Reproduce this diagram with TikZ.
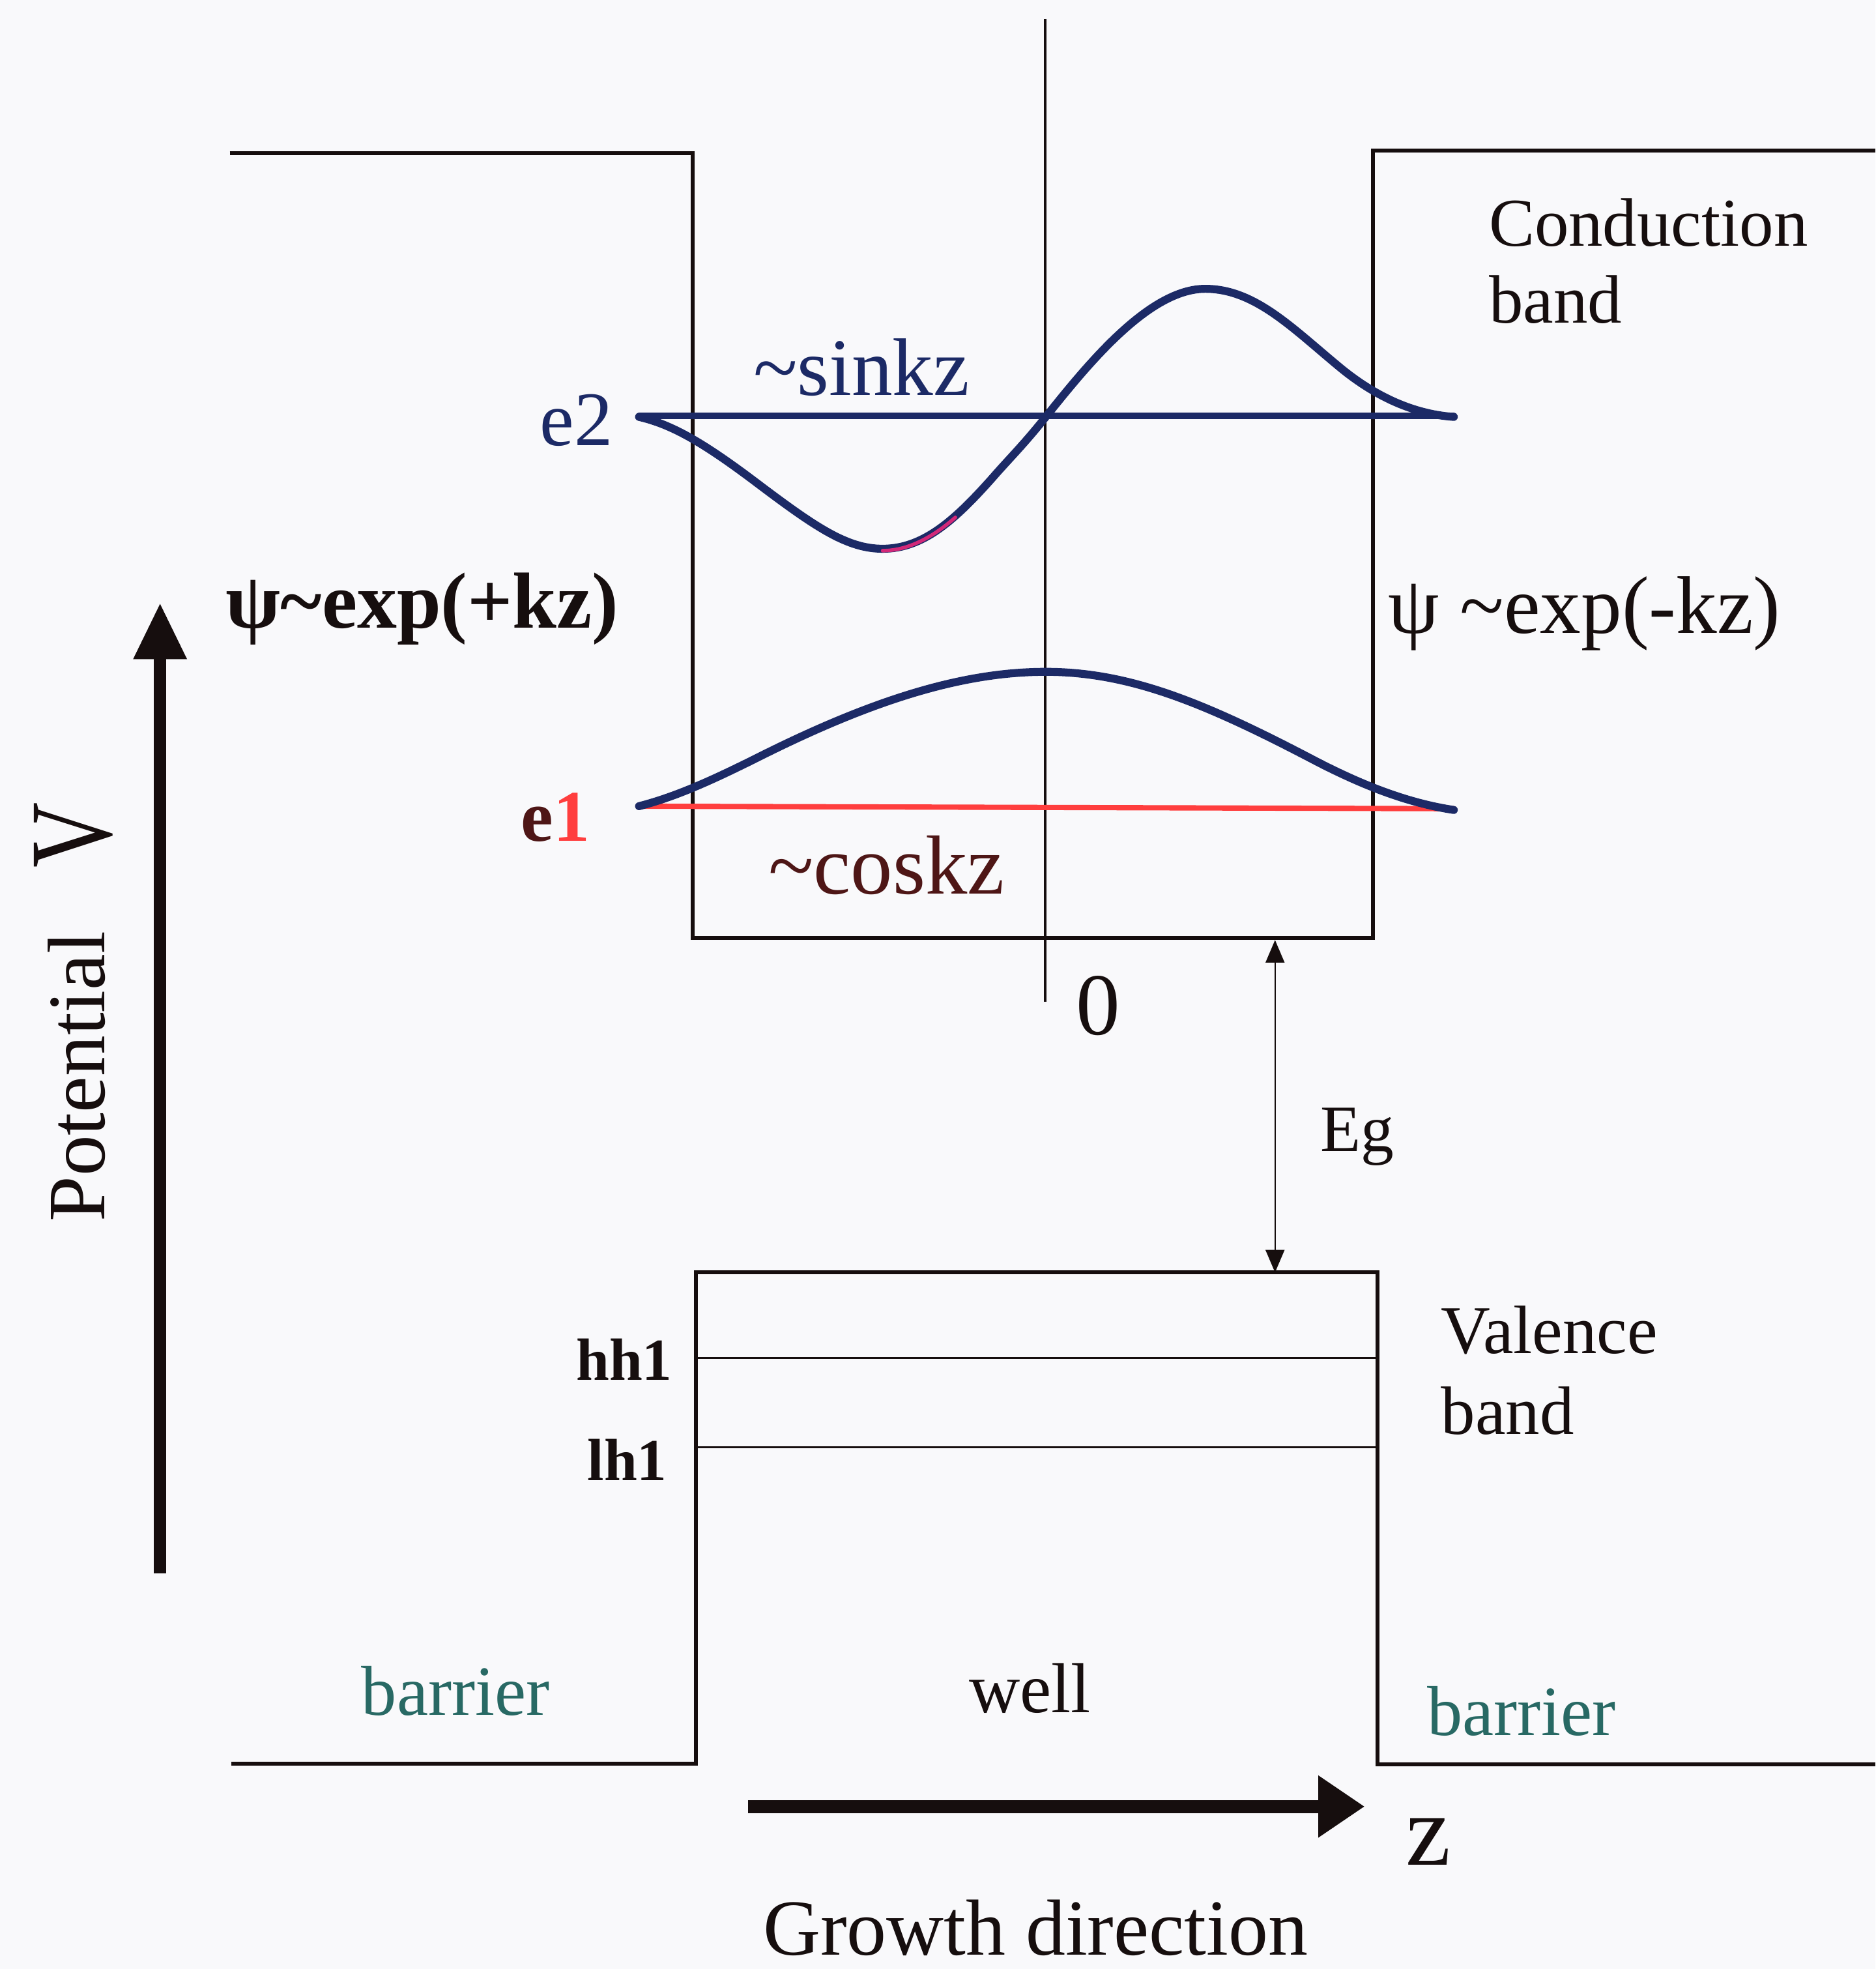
\documentclass[tikz,border=0pt]{standalone}
\usepackage{fontspec}
\setmainfont{Liberation Serif}
\usetikzlibrary{arrows.meta}
\definecolor{navy}{RGB}{28,42,102}
\definecolor{redline}{RGB}{255,62,62}
\definecolor{maroonc}{RGB}{78,22,22}
\definecolor{tealc}{RGB}{40,105,100}
\definecolor{bgc}{RGB}{249,249,251}
\definecolor{pinkseg}{RGB}{210,40,120}
\definecolor{inkc}{RGB}{22,14,14}
\newcommand{\fsz}[1]{\fontsize{#1}{#1}\selectfont}
\begin{document}
\begin{tikzpicture}[x=0.02cm,y=-0.02cm,
  bandline/.style={inkc,line width=1.8pt,line join=miter},
  lvl/.style={inkc,line width=1pt},
  lbl/.style={inner sep=0pt,outer sep=0pt,anchor=base west,text=inkc},
  wave/.style={navy,line width=3.6pt,line cap=round,line join=round},
  bigarrow/.style={inkc,line width=5.6pt}]
\fill[bgc] (0,0) rectangle (1494,1568);
\useasboundingbox (0,0) rectangle (1494,1568);

% conduction band
\draw[bandline] (183,122) -- (551.5,122) -- (551.5,746.8) -- (1093.4,746.8) -- (1093.4,120) -- (1494,120);
% valence band
\draw[bandline] (184,1404.6) -- (554.2,1404.6) -- (554.2,1013.3) -- (1097.2,1013.3) -- (1097.2,1405) -- (1494,1405);
\draw[lvl] (554.2,1081.4) -- (1097.2,1081.4);
\draw[lvl] (554.2,1152.4) -- (1097.2,1152.4);

% axis
\coordinate (axtop) at (832.5,15);
\coordinate (axbot) at (832.5,798);
\draw[inkc,line width=1.4pt] (axtop) -- (axbot);

% energy levels
\draw[navy,line width=3pt,line cap=round] (509,331) -- (1158,331);
\draw[redline,line width=2.4pt,line cap=round] (509,642) -- (1158,644);

% wavefunctions
\draw[wave] (509,332) .. controls (535,338) and (560,352) .. (606,387)
  .. controls (650,420) and (675,437) .. (703,437)
  .. controls (735,437) and (760,415) .. (791,380)
  .. controls (805,364) and (815,354.5) .. (833,332)
  .. controls (866,290.75) and (915,230) .. (960,230)
  .. controls (1000,230) and (1030,262) .. (1069,294)
  .. controls (1100,319) and (1130,330) .. (1158,332);
\draw[pinkseg,line width=1.6pt,line cap=round] (703,438.5) .. controls (725,438.5) and (745,426) .. (761,412);
\draw[wave] (509,642) .. controls (540,634) and (570,620) .. (606,602)
  .. controls (700,555) and (770,535) .. (833,535)
  .. controls (900,535) and (960,560) .. (1046,605)
  .. controls (1090,628) and (1125,640) .. (1158,645);

% arrows
\coordinate (vtail) at (127.5,1253);
\coordinate (vhead) at (127.5,480);
\draw[bigarrow,-{Triangle[length=0.9cm,width=0.8cm]}] (vtail) -- (vhead);
\coordinate (gtail) at (596,1438.6);
\coordinate (ghead) at (1087,1438.6);
\draw[bigarrow,line width=6pt,-{Triangle[length=0.74cm,width=0.94cm]}] (gtail) -- (ghead);
\coordinate (egtop) at (1015.6,748.6);
\coordinate (egbot) at (1015.6,1013.3);
\draw[inkc,line width=0.7pt,{Triangle[length=0.36cm,width=0.3cm]}-{Triangle[length=0.36cm,width=0.3cm]}] (egtop) -- (egbot);

% labels
\node[lbl] (cb1) at (1186,196) {\fsz{31}Conduction};
\node[lbl] (cb2) at (1186,257) {\fsz{31}band};
\node[lbl,text=navy] (e2) at (430,355) {\fsz{35}e2};
\node[lbl,text=navy] (sink) at (600,315) {\fsz{37}\textasciitilde sinkz};
\node[lbl] (psil) at (180,500) {\fsz{36}\bfseries ψ\textasciitilde exp(+kz)};
\node[lbl] (psir) at (1106,504) {\fsz{37}ψ \textasciitilde exp(-kz)};
\node[lbl] (e1) at (415,670) {\fsz{33}\bfseries\textcolor{maroonc}{e}\textcolor{redline}{1}};
\node[lbl,text=maroonc] (cosk) at (612,712) {\fsz{38}\textasciitilde coskz};
\node[lbl] (zero) at (857,824) {\fsz{40}0};
\node[lbl] (eg) at (1052,917) {\fsz{30}Eg};
\node[lbl] (hh) at (459,1099) {\fsz{27}\bfseries hh1};
\node[lbl] (lh) at (468,1179) {\fsz{27}\bfseries lh1};
\node[lbl] (vb1) at (1148,1078) {\fsz{31}Valence};
\node[lbl] (vb2) at (1148,1142) {\fsz{31}band};
\node[lbl,text=tealc] (barl) at (288,1366) {\fsz{32}barrier};
\node[lbl] (well) at (772,1364) {\fsz{32}well};
\node[lbl,text=tealc] (barr) at (1137,1382) {\fsz{32}barrier};
\node[lbl] (zlab) at (1120,1485) {\fsz{46}z};
\node[lbl] (grow) at (608,1557) {\fsz{36}Growth direction};
\node[lbl,rotate=90] (pot) at (83.4,972.8) {\fsz{37}Potential};
\node[lbl,rotate=90] (potv) at (88.7,691) {\fsz{41}\scalebox{1}[1.3]{V}};
\end{tikzpicture}
\end{document}
